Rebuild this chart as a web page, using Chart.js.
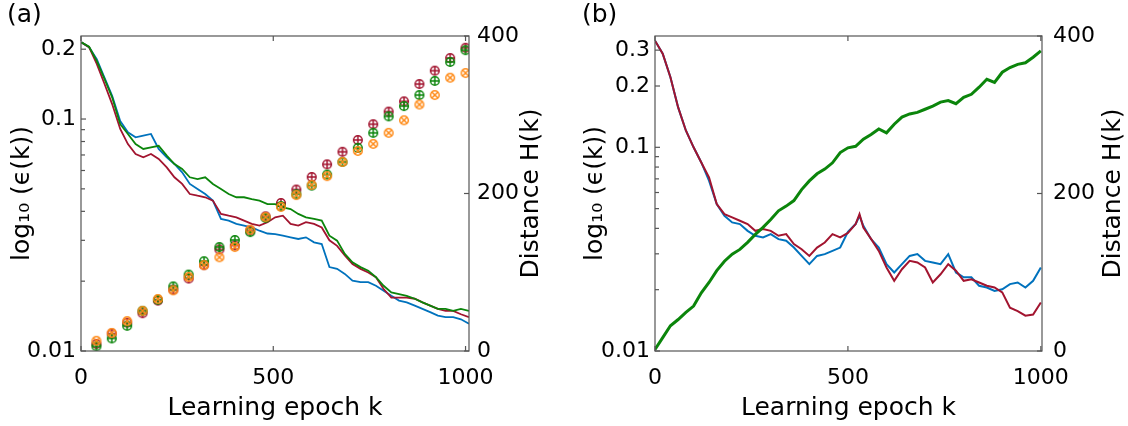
<!DOCTYPE html>
<html lang="en">
<head>
  <meta charset="UTF-8">
  <title>Learning error and distance</title>
  <script src="https://cdn.jsdelivr.net/npm/chart.js"></script>
  <style>
    body { margin: 0; background: #fff; }
    .panel { position: absolute; top: 0; width: 564px; height: 426px; }
  </style>
</head>
<body>
  <div class="panel" style="left:0"><canvas id="chartA" width="564" height="426"></canvas></div>
  <div class="panel" style="left:564px"><canvas id="chartB" width="564" height="426"></canvas></div>

  <script>
    // ---- panel (a): error curves (log axis) ----
    const epochsA = [1, 21, 41, 61, 81, 102, 122, 142, 162, 182, 202, 223, 243, 263, 283, 303, 323, 343, 364, 384,
      404, 424, 444, 464, 485, 505, 525, 545, 565, 585, 606, 626, 646, 666, 686, 706, 727, 747, 767, 787,
      807, 827, 847, 868, 888, 908, 928, 948, 968, 988, 1009];
    const blueA = [0.214, 0.204, 0.181, 0.151, 0.126, 0.098, 0.0876, 0.0834, 0.0848, 0.0862, 0.0743, 0.0684, 0.064, 0.0589, 0.0525, 0.0499, 0.0475, 0.0445, 0.0371, 0.0365,
      0.0353, 0.0347, 0.0341, 0.033, 0.0321, 0.0319, 0.0314, 0.0309, 0.0304, 0.0309, 0.0294, 0.0289, 0.023, 0.0226, 0.0215, 0.0201, 0.0198, 0.0198, 0.0191, 0.0182,
      0.0173, 0.0165, 0.0162, 0.0157, 0.0152, 0.0147, 0.0142, 0.014, 0.014, 0.0137, 0.0131];
    const redA = [0.214, 0.204, 0.173, 0.142, 0.116, 0.0906, 0.078, 0.0707, 0.0684, 0.0707, 0.0673, 0.0619, 0.0561, 0.0525, 0.0475, 0.0467, 0.046, 0.0445, 0.039, 0.0383,
      0.0377, 0.0365, 0.0353, 0.0347, 0.0359, 0.0377, 0.0383, 0.0353, 0.0347, 0.0359, 0.0353, 0.0341, 0.030, 0.0284, 0.0258, 0.0237, 0.0226, 0.0218, 0.0208, 0.0185,
      0.017, 0.017, 0.017, 0.0168, 0.0162, 0.0157, 0.0152, 0.0149, 0.0149, 0.0144, 0.014];
    const greenA = [0.214, 0.205, 0.178, 0.149, 0.124, 0.095, 0.0862, 0.078, 0.0743, 0.0755, 0.0767, 0.0695, 0.064, 0.0609, 0.0561, 0.0551, 0.0561, 0.0525, 0.0499, 0.0475,
      0.046, 0.046, 0.0452, 0.0445, 0.043, 0.043, 0.0416, 0.0409, 0.039, 0.0377, 0.0371, 0.0365, 0.0314, 0.0299, 0.0262, 0.0241, 0.023, 0.0222, 0.0208, 0.0191,
      0.0179, 0.0176, 0.0173, 0.0168, 0.0162, 0.0157, 0.0152, 0.0152, 0.0149, 0.0152, 0.0149];

    // distance markers of panel (a), right axis
    const markerEpochs = [40, 80, 120, 160, 200, 240, 280, 320, 360, 400, 440, 480, 520, 560, 600, 640, 680, 720, 760, 800, 840, 880, 920, 960, 1000];
    const distRed = [9, 22, 36, 48, 64, 78, 92, 109, 129, 134, 153, 171, 188, 205, 221, 237, 253, 268, 288, 304, 317, 339, 356, 372, 385];
    const distGreen = [6, 16, 32, 51, 65, 82, 97, 114, 132, 141, 151, 169, 184, 199, 210, 224, 240, 258, 277, 298, 311, 325, 343, 367, 382];
    const distOrange = [13, 23, 38, 51, 66, 77, 94, 109, 119, 132, 154, 170, 183, 198, 211, 222, 240, 254, 263, 277, 293, 313, 325, 347, 353];

    // ---- panel (b) ----
    const epochsB = [0, 20, 40, 60, 80, 100, 120, 140, 160, 180, 200, 220, 240, 260, 280, 300, 320, 340, 360, 380, 400, 420, 440, 460, 480, 500,
      520, 530, 540, 560, 580, 600, 620, 640, 660, 680, 700, 720, 740, 760, 780, 800, 820, 840, 860, 880, 900, 920, 940, 960, 980, 1000];
    const blueB = [0.334, 0.288, 0.221, 0.157, 0.121, 0.100, 0.0843, 0.0686, 0.0526, 0.0461, 0.0428, 0.042, 0.0389, 0.0368, 0.0361, 0.0375, 0.0354, 0.0348, 0.0322, 0.0293, 0.0267, 0.0293, 0.0299, 0.031, 0.0322, 0.0385,
      0.042, 0.0461, 0.0412, 0.0354, 0.0322, 0.0267, 0.0243, 0.0267, 0.0293, 0.0299, 0.0277, 0.0272, 0.0267, 0.0299, 0.0243, 0.023, 0.023, 0.0209, 0.0205, 0.0197, 0.0201, 0.0213, 0.0217, 0.0205, 0.0221, 0.0257];
    const redB = [0.334, 0.288, 0.221, 0.157, 0.121, 0.100, 0.0843, 0.0711, 0.0526, 0.047, 0.0453, 0.0436, 0.042, 0.0389, 0.0397, 0.0389, 0.0368, 0.0375, 0.0335, 0.0316, 0.0293, 0.0322, 0.0341, 0.0375, 0.0361, 0.038,
      0.042, 0.047, 0.0404, 0.0355, 0.031, 0.0257, 0.0221, 0.0252, 0.0277, 0.0272, 0.0257, 0.0217, 0.0238, 0.0267, 0.0248, 0.0221, 0.0225, 0.0217, 0.0209, 0.0205, 0.0194, 0.0163, 0.0157, 0.0149, 0.0151, 0.0173];
    const epochsH = [0, 20, 40, 60, 80, 100, 120, 140, 160, 180, 200, 220, 240, 260, 280, 300, 320, 340, 360, 380, 400, 420, 440, 460, 480, 500,
      520, 540, 560, 580, 600, 620, 640, 660, 680, 700, 720, 740, 760, 780, 800, 820, 840, 860, 880, 900, 920, 940, 960, 980, 1000];
    const distB = [2, 17, 32, 40, 49, 57, 74, 87, 102, 114, 123, 129, 138, 148, 157, 167, 178, 184, 191, 205, 216, 225, 231, 239, 252, 258,
      260, 269, 275, 282, 277, 288, 297, 301, 303, 307, 311, 316, 318, 314, 322, 326, 335, 345, 341, 354, 360, 364, 366, 373, 381];

    // ticks
    const xTicks = [0, 500, 1000];
    const hTicks = [0, 200, 400];
    const yTicksA = [0.01, 0.02, 0.03, 0.04, 0.05, 0.06, 0.07, 0.08, 0.09, 0.1, 0.2];
    const yLabelsA = ['0.01', '', '', '', '', '', '', '', '', '0.1', '0.2'];
    const yTicksB = [0.01, 0.02, 0.03, 0.04, 0.05, 0.06, 0.07, 0.08, 0.09, 0.1, 0.2, 0.3];
    const yLabelsB = ['0.01', '', '', '', '', '', '', '', '', '0.1', '0.2', '0.3'];

    const BLUE = '#0072BD', RED = '#A2142F', GREEN = '#0B850B', ORANGE = '#FF8C1A';
    const FONT = '"DejaVu Sans", sans-serif';
    const tickFont = { family: FONT, size: 22 };
    const titleFont = { family: FONT, size: 25 };

    function xy(xs, ys) {
      return xs.map((x, i) => ({ x: x, y: ys[i] }));
    }

    // circle with a plus or a cross inside
    function makeMarker(color, diag) {
      const c = document.createElement('canvas');
      c.width = 12; c.height = 12;
      const g = c.getContext('2d');
      g.strokeStyle = color;
      g.lineWidth = 1.5;
      g.beginPath();
      g.arc(6, 6, 4.3, 0, Math.PI * 2);
      g.stroke();
      g.beginPath();
      if (diag) {
        const d = 4.3 * Math.SQRT1_2;
        g.moveTo(6 - d, 6 - d); g.lineTo(6 + d, 6 + d);
        g.moveTo(6 + d, 6 - d); g.lineTo(6 - d, 6 + d);
      } else {
        g.moveTo(1.7, 6); g.lineTo(10.3, 6);
        g.moveTo(6, 1.7); g.lineTo(6, 10.3);
      }
      g.stroke();
      return c;
    }

    // frame, inward tick marks, right axis title and panel letter
    const frame = {
      id: 'frame',
      afterDraw(chart, args, opts) {
        const { ctx, chartArea: a, scales } = chart;
        const line = (x1, y1, x2, y2) => { ctx.beginPath(); ctx.moveTo(x1, y1); ctx.lineTo(x2, y2); ctx.stroke(); };
        ctx.save();
        ctx.strokeStyle = '#555';
        ctx.lineWidth = 1.2;
        ctx.strokeRect(a.left, a.top, a.right - a.left, a.bottom - a.top);
        scales.x.ticks.forEach(t => {
          const px = scales.x.getPixelForValue(t.value);
          line(px, a.bottom, px, a.bottom - 5);
          line(px, a.top, px, a.top + 5);
        });
        scales.y.ticks.forEach((t, i) => {
          const py = scales.y.getPixelForValue(t.value);
          line(a.left, py, a.left + (opts.yLabels[i] ? 5 : 4), py);
        });
        scales.y1.ticks.forEach(t => {
          const py = scales.y1.getPixelForValue(t.value);
          line(a.right - 5, py, a.right, py);
        });
        ctx.fillStyle = '#000';
        ctx.textAlign = 'center';
        ctx.textBaseline = 'middle';
        ctx.font = '25px ' + FONT;
        ctx.translate(opts.rightTitleX, (a.top + a.bottom) / 2);
        ctx.rotate(-Math.PI / 2);
        ctx.fillText('Distance H(k)', 0, 0);
        ctx.restore();
        ctx.save();
        ctx.fillStyle = '#000';
        ctx.textAlign = 'left';
        ctx.textBaseline = 'middle';
        ctx.font = '25px ' + FONT;
        ctx.fillText(opts.letter, opts.letterX, 15);
        ctx.restore();
      }
    };

    function panelOptions(p) {
      return {
        responsive: false,
        animation: false,
        events: [],
        layout: { padding: { top: 36, left: 0, right: 0, bottom: 0 } },
        plugins: {
          legend: { display: false },
          tooltip: { enabled: false },
          frame: { letter: p.letter, letterX: p.letterX, rightTitleX: p.rightTitleX, yLabels: p.yLabels }
        },
        scales: {
          x: {
            type: 'linear', min: 0, max: p.xMax,
            grid: { display: false, drawTicks: false }, border: { display: false },
            afterBuildTicks: s => { s.ticks = xTicks.map(v => ({ value: v })); },
            afterFit: s => { s.height = 75; },
            ticks: { font: tickFont, color: '#000', padding: 14, maxRotation: 0, autoSkip: false, callback: v => String(v) },
            title: { display: true, text: 'Learning epoch k', font: titleFont, color: '#000', padding: { top: 0, bottom: 3 } }
          },
          y: {
            type: 'logarithmic', position: 'left', min: 0.01, max: p.yMax,
            grid: { display: false, drawTicks: false }, border: { display: false },
            afterBuildTicks: s => { s.ticks = p.yTicks.map(v => ({ value: v })); },
            afterFit: s => { s.width = p.leftWidth; },
            ticks: { font: tickFont, color: '#000', padding: 5, autoSkip: false, callback: (v, i) => p.yLabels[i] },
            title: { display: true, text: 'log₁₀ (ϵ(k))', font: titleFont, color: '#000', padding: { top: p.leftTitlePad, bottom: 0 } }
          },
          y1: {
            type: 'linear', position: 'right', min: 0, max: 400,
            grid: { display: false, drawTicks: false }, border: { display: false },
            afterBuildTicks: s => { s.ticks = hTicks.map(v => ({ value: v })); },
            afterFit: s => { s.width = p.rightWidth; },
            ticks: { font: tickFont, color: '#000', padding: p.rightPad, autoSkip: false }
          }
        }
      };
    }

    function lineSet(data, color, width, axis, order) {
      return { data: data, borderColor: color, borderWidth: width, pointRadius: 0, tension: 0, fill: false, yAxisID: axis, order: order };
    }

    function markerSet(data, color, diag, order) {
      return {
        data: data, showLine: false, yAxisID: 'y1', order: order,
        pointStyle: makeMarker(color, diag), pointRadius: 6, borderColor: color, backgroundColor: color
      };
    }

    new Chart(document.getElementById('chartA'), {
      type: 'line',
      data: {
        datasets: [
          markerSet(xy(markerEpochs, distOrange), ORANGE, true, 1),
          markerSet(xy(markerEpochs, distGreen), GREEN, false, 2),
          markerSet(xy(markerEpochs, distRed), RED, false, 3),
          lineSet(xy(epochsA, greenA), GREEN, 1.8, 'y', 4),
          lineSet(xy(epochsA, redA), RED, 1.8, 'y', 5),
          lineSet(xy(epochsA, blueA), BLUE, 1.8, 'y', 6)
        ]
      },
      options: panelOptions({
        letter: '(a)', letterX: 7, rightTitleX: 531, xMax: 1009, yMax: 0.228,
        yTicks: yTicksA, yLabels: yLabelsA, leftWidth: 81, rightWidth: 95, rightPad: 8, leftTitlePad: 7
      }),
      plugins: [frame]
    });

    new Chart(document.getElementById('chartB'), {
      type: 'line',
      data: {
        datasets: [
          lineSet(xy(epochsH, distB), GREEN, 3, 'y1', 1),
          lineSet(xy(epochsB, redB), RED, 2, 'y', 2),
          lineSet(xy(epochsB, blueB), BLUE, 2, 'y', 3)
        ]
      },
      options: panelOptions({
        letter: '(b)', letterX: 18, rightTitleX: 549, xMax: 1003, yMax: 0.352,
        yTicks: yTicksB, yLabels: yLabelsB, leftWidth: 91, rightWidth: 86, rightPad: 11, leftTitlePad: 16
      }),
      plugins: [frame]
    });
  </script>
</body>
</html>
